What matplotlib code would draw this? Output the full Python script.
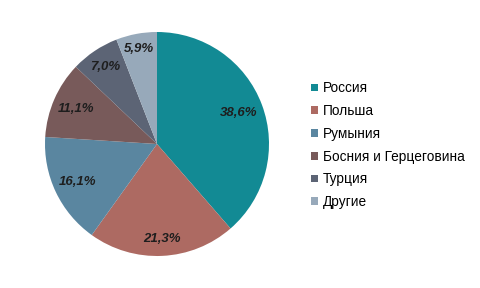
import matplotlib
matplotlib.use('Agg')
import numpy as np
import matplotlib.pyplot as plt
from matplotlib.patches import Patch

plt.rcParams['font.family'] = ['Liberation Sans', 'DejaVu Sans']

# Данные диаграммы
countries = ['Россия', 'Польша', 'Румыния', 'Босния и Герцеговина', 'Турция', 'Другие']
shares = [38.6, 21.3, 16.1, 11.1, 7.0, 5.9]
labels = ['38,6%', '21,3%', '16,1%', '11,1%', '7,0%', '5,9%']
colors = ['#128a94', '#ad6a62', '#5a86a0', '#785a5a', '#5c6475', '#97a9ba']
label_r = [0.78, 0.85, 0.79, 0.79, 0.83, 0.86]

fig = plt.figure(figsize=(4.8, 2.88), dpi=100)
ax = fig.add_axes([44 / 480, 32 / 288, 226 / 480, 224 / 288])

wedges, _ = ax.pie(shares, colors=colors, startangle=90, counterclock=False,
                   wedgeprops={'linewidth': 0})
ax.set_xlim(-1.0, 1.0)
ax.set_ylim(-1.0, 1.0)
ax.set_aspect('equal')

# Подписи долей
for w, txt, r in zip(wedges, labels, label_r):
    ang = np.deg2rad((w.theta1 + w.theta2) / 2)
    ax.text(r * np.cos(ang), r * np.sin(ang), txt, ha='center', va='center',
            fontsize=9.5, fontweight='bold', fontstyle='italic', color='#1e1e1e')

handles = [Patch(facecolor=c, edgecolor='none') for c in colors]
fig.legend(handles, countries, loc='upper left', bbox_to_anchor=(306 / 480, 1 - 76 / 288),
           frameon=False, fontsize=9.8, handlelength=0.5, handleheight=0.5,
           handletextpad=0.35, labelspacing=0.64, borderaxespad=0)

fig.savefig('out.png', dpi=100)
